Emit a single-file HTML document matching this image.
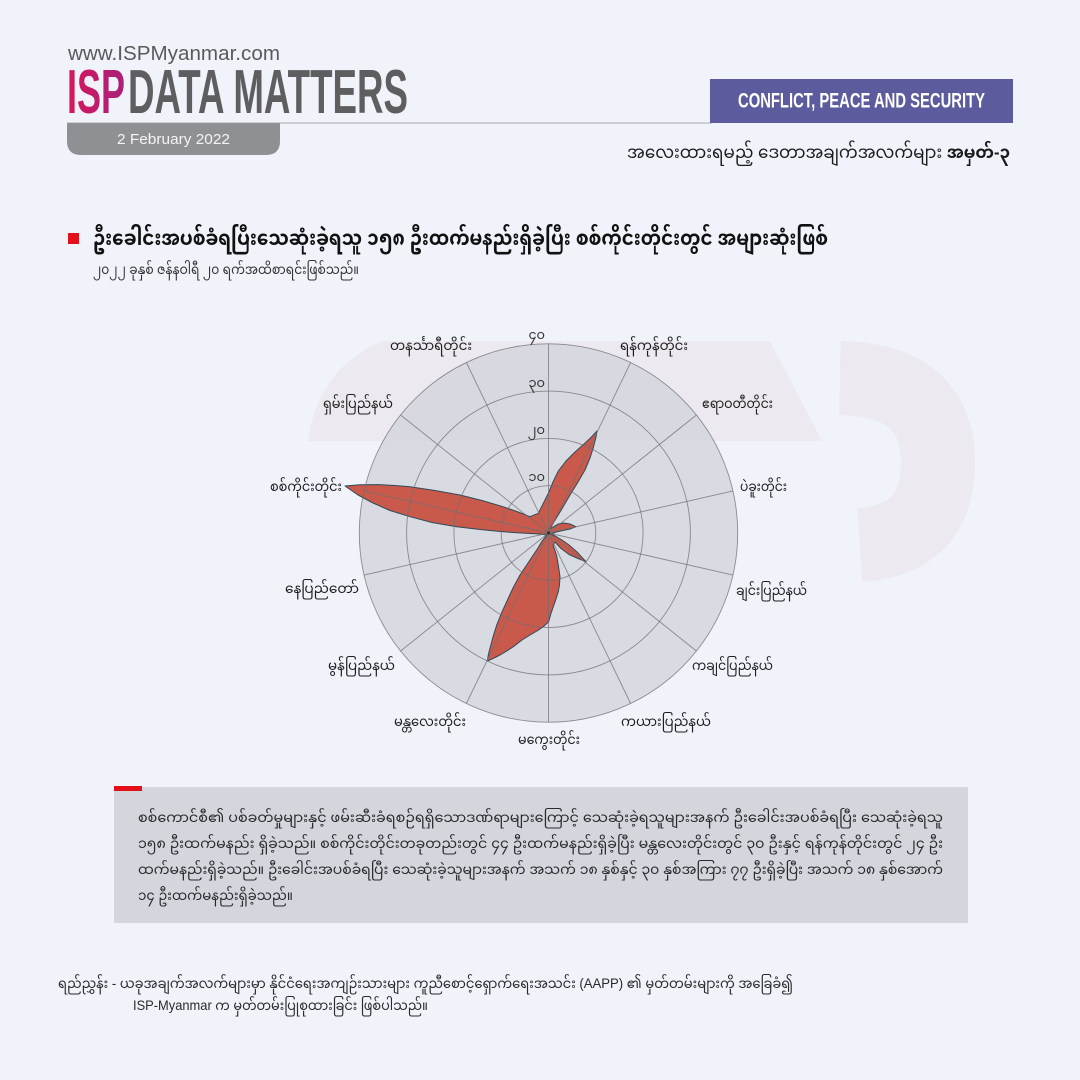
<!DOCTYPE html>
<html>
<head>
<meta charset="utf-8">
<style>
  html,body{margin:0;padding:0;background:#f0f3fa;}
  body{width:1080px;height:1080px;overflow:hidden;}
  svg{display:block;}
  .my{font-family:"Liberation Sans","Noto Sans Myanmar","Padauk","Myanmar Text","DejaVu Sans",sans-serif;}
  .cond{font-family:"Liberation Sans Narrow","Liberation Sans",sans-serif;font-weight:bold;}
</style>
</head>
<body>
<svg width="1080" height="1080" viewBox="0 0 1080 1080" xmlns="http://www.w3.org/2000/svg">
  <defs>
    <linearGradient id="ispg" x1="0" y1="0" x2="1" y2="0">
      <stop offset="0" stop-color="#d6185a"/>
      <stop offset="1" stop-color="#a8207c"/>
    </linearGradient>
  </defs>
  <rect width="1080" height="1080" fill="#f0f3fa"/>

  <!-- faint watermark -->
  <g fill="#ece9f0">
    <path d="M383,341 L770,341 L822,441 L308,441 Q318,368 383,341 Z"/>
  </g>
  <path d="M840,378 Q938,380 938,462 Q938,540 860,545" fill="none" stroke="#ece9f0" stroke-width="74"/>

  <!-- header -->
  <text x="68" y="60" font-family="Liberation Sans, sans-serif" font-size="20.5" fill="#5a5a5a" textLength="212" lengthAdjust="spacingAndGlyphs">www.ISPMyanmar.com</text>
  <text x="67" y="113" class="cond" font-size="62" fill="url(#ispg)" textLength="58" lengthAdjust="spacingAndGlyphs">ISP</text>
  <text x="128" y="113" class="cond" font-size="62" fill="#5e5e60" textLength="280" lengthAdjust="spacingAndGlyphs">DATA MATTERS</text>

  <line x1="67" y1="123" x2="712" y2="123" stroke="#b8b8bc" stroke-width="1.2"/>
  <path d="M67,123 L280,123 L280,141 Q280,155 266,155 L81,155 Q67,155 67,141 Z" fill="#8f9094"/>
  <text x="117" y="144" font-family="Liberation Sans, sans-serif" font-size="15" fill="#f4f4f4" textLength="113" lengthAdjust="spacingAndGlyphs">2 February 2022</text>

  <rect x="710" y="79" width="303" height="44" fill="#5b5b9e"/>
  <text x="738" y="107.5" class="cond" font-size="21" fill="#ffffff" textLength="247" lengthAdjust="spacingAndGlyphs">CONFLICT, PEACE AND SECURITY</text>

  <text x="627" y="158" class="my" font-size="17" fill="#1a1a1a" textLength="383" lengthAdjust="spacingAndGlyphs">အလေးထားရမည့် ဒေတာအချက်အလက်များ <tspan font-weight="bold">အမှတ်-၃</tspan></text>

  <!-- title -->
  <rect x="68" y="233" width="11" height="11" fill="#e3101a"/>
  <text x="93" y="245" class="my" font-size="21" font-weight="bold" fill="#111" textLength="735" lengthAdjust="spacingAndGlyphs">ဦးခေါင်းအပစ်ခံရပြီးသေဆုံးခဲ့ရသူ ၁၅၈ ဦးထက်မနည်းရှိခဲ့ပြီး စစ်ကိုင်းတိုင်းတွင် အများဆုံးဖြစ်</text>
  <text x="93" y="274" class="my" font-size="14" fill="#333" textLength="266" lengthAdjust="spacingAndGlyphs">၂၀၂၂ ခုနှစ် ဇန်နဝါရီ ၂၀ ရက်အထိစာရင်းဖြစ်သည်။</text>

  <!-- polar chart -->
  <circle cx="548.5" cy="533" r="189.2" fill="#d5d6dd" fill-opacity="0.85"/>

  <path d="M538.3,513.3 L548.3,493.3 L553,482 L558.3,471 L566,461 L575,452 L584,444 L591,437.5 L597,431 L596,437 L593.5,447 L590,458 L585,470 L578,482 L570,495 L563,507 L557,517 L552,525 L550,529 L553,527 L558,524 L564,523 L570,524 L576,526.7 L570,529 L563,530.5 L556,532 L551,534 L556,536.5 L562,540 L569,545 L577,552 L586,561.7 L578,558.5 L569,554.5 L561,548.5 L555,542 L553,545 L556.5,555 L558.3,565 L560,576.7 L559.5,585 L558.3,591.7 L556,599 L553.3,606.7 L550.5,615 L548.7,621.7 L543.3,626.7 L537,631 L530,635 L522,640 L513.3,646.7 L506,651.5 L500,655 L493,658.5 L487.3,661 L488.5,654 L490,648.3 L493,637 L496.7,625 L501.5,613 L506.7,601.7 L513,588 L520,575 L527,564.5 L533.3,555 L538,548 L541.7,541.7 L546.7,535 L540,534 L530,533.5 L517,532.8 L503,531.7 L480,529.5 L456.7,526.7 L432,522.5 L410,516.7 L390,510.5 L373,503 L358,495 L345,486 L360,484.8 L378,484.6 L395,485.5 L410,486.7 L435,490.5 L460,495 L482,500.5 L503,506.7 L517,511.5 L530,516.7 Z"
        fill="#c95a4b" stroke="#2f4a5a" stroke-width="1" stroke-linejoin="round"/>

  <g fill="none" stroke="#6e6e72" stroke-opacity="0.75" stroke-width="0.9">
    <circle cx="548.5" cy="533" r="47.3"/>
    <circle cx="548.5" cy="533" r="94.6"/>
    <circle cx="548.5" cy="533" r="141.9"/>
    <circle cx="548.5" cy="533" r="189.2"/>
    <line x1="548.5" y1="533" x2="548.5" y2="343.8"/>
    <line x1="548.5" y1="533" x2="630.6" y2="362.5"/>
    <line x1="548.5" y1="533" x2="696.4" y2="415.0"/>
    <line x1="548.5" y1="533" x2="733.0" y2="490.9"/>
    <line x1="548.5" y1="533" x2="733.0" y2="575.1"/>
    <line x1="548.5" y1="533" x2="696.4" y2="651.0"/>
    <line x1="548.5" y1="533" x2="630.6" y2="703.5"/>
    <line x1="548.5" y1="533" x2="548.5" y2="722.2"/>
    <line x1="548.5" y1="533" x2="466.4" y2="703.5"/>
    <line x1="548.5" y1="533" x2="400.6" y2="651.0"/>
    <line x1="548.5" y1="533" x2="364.0" y2="575.1"/>
    <line x1="548.5" y1="533" x2="364.0" y2="490.9"/>
    <line x1="548.5" y1="533" x2="400.6" y2="415.0"/>
    <line x1="548.5" y1="533" x2="466.4" y2="362.5"/>
  </g>
  <circle cx="548.5" cy="533" r="1.6" fill="#333"/>

  <!-- radial tick labels -->
  <g class="my" font-size="13" fill="#333" text-anchor="end">
    <text x="545" y="481">၁၀</text>
    <text x="545" y="434">၂၀</text>
    <text x="545" y="387">၃၀</text>
    <text x="545" y="339">၄၀</text>
  </g>

  <!-- category labels -->
  <g class="my" font-size="14" fill="#1e1e1e">
    <text x="390" y="350" textLength="82" lengthAdjust="spacingAndGlyphs">တနင်္သာရီတိုင်း</text>
    <text x="323" y="408" textLength="70" lengthAdjust="spacingAndGlyphs">ရှမ်းပြည်နယ်</text>
    <text x="270" y="491" textLength="72" lengthAdjust="spacingAndGlyphs">စစ်ကိုင်းတိုင်း</text>
    <text x="620" y="350" textLength="68" lengthAdjust="spacingAndGlyphs">ရန်ကုန်တိုင်း</text>
    <text x="702" y="408" textLength="71" lengthAdjust="spacingAndGlyphs">ဧရာဝတီတိုင်း</text>
    <text x="740" y="491" textLength="47" lengthAdjust="spacingAndGlyphs">ပဲခူးတိုင်း</text>
    <text x="736" y="595" textLength="71" lengthAdjust="spacingAndGlyphs">ချင်းပြည်နယ်</text>
    <text x="692" y="670" textLength="81" lengthAdjust="spacingAndGlyphs">ကချင်ပြည်နယ်</text>
    <text x="621" y="726" textLength="90" lengthAdjust="spacingAndGlyphs">ကယားပြည်နယ်</text>
    <text x="518" y="744" textLength="62" lengthAdjust="spacingAndGlyphs">မကွေးတိုင်း</text>
    <text x="394" y="726" textLength="72" lengthAdjust="spacingAndGlyphs">မန္တလေးတိုင်း</text>
    <text x="328" y="670" textLength="67" lengthAdjust="spacingAndGlyphs">မွန်ပြည်နယ်</text>
    <text x="285" y="593" textLength="74" lengthAdjust="spacingAndGlyphs">နေပြည်တော်</text>
  </g>

  <!-- text box -->
  <rect x="114" y="787" width="854" height="136" fill="#d3d6dd"/>
  <rect x="114" y="786" width="28" height="5" fill="#e3101a"/>
  <g class="my" font-size="14" fill="#2a2a2a">
    <text x="138" y="822" textLength="805" lengthAdjust="spacingAndGlyphs">စစ်ကောင်စီ၏ ပစ်ခတ်မှုများနှင့် ဖမ်းဆီးခံရစဉ်ရရှိသောဒဏ်ရာများကြောင့် သေဆုံးခဲ့ရသူများအနက် ဦးခေါင်းအပစ်ခံရပြီး သေဆုံးခဲ့ရသူ</text>
    <text x="138" y="848" textLength="805" lengthAdjust="spacingAndGlyphs">၁၅၈ ဦးထက်မနည်း ရှိခဲ့သည်။ စစ်ကိုင်းတိုင်းတခုတည်းတွင် ၄၄ ဦးထက်မနည်းရှိခဲ့ပြီး မန္တလေးတိုင်းတွင် ၃၀ ဦးနှင့် ရန်ကုန်တိုင်းတွင် ၂၄ ဦး</text>
    <text x="138" y="874" textLength="805" lengthAdjust="spacingAndGlyphs">ထက်မနည်းရှိခဲ့သည်။ ဦးခေါင်းအပစ်ခံရပြီး သေဆုံးခဲ့သူများအနက် အသက် ၁၈ နှစ်နှင့် ၃၀ နှစ်အကြား ၇၇ ဦးရှိခဲ့ပြီး အသက် ၁၈ နှစ်အောက်</text>
    <text x="138" y="900" textLength="155" lengthAdjust="spacingAndGlyphs">၁၄ ဦးထက်မနည်းရှိခဲ့သည်။</text>
  </g>

  <!-- footer -->
  <g class="my" font-size="14" fill="#2a2a2a">
    <text x="58" y="988" textLength="735" lengthAdjust="spacingAndGlyphs">ရည်ညွှန်း - ယခုအချက်အလက်များမှာ နိုင်ငံရေးအကျဉ်းသားများ ကူညီစောင့်ရှောက်ရေးအသင်း (AAPP) ၏ မှတ်တမ်းများကို အခြေခံ၍</text>
    <text x="133" y="1010" textLength="295" lengthAdjust="spacingAndGlyphs">ISP-Myanmar က မှတ်တမ်းပြုစုထားခြင်း ဖြစ်ပါသည်။</text>
  </g>
</svg>
</body>
</html>
